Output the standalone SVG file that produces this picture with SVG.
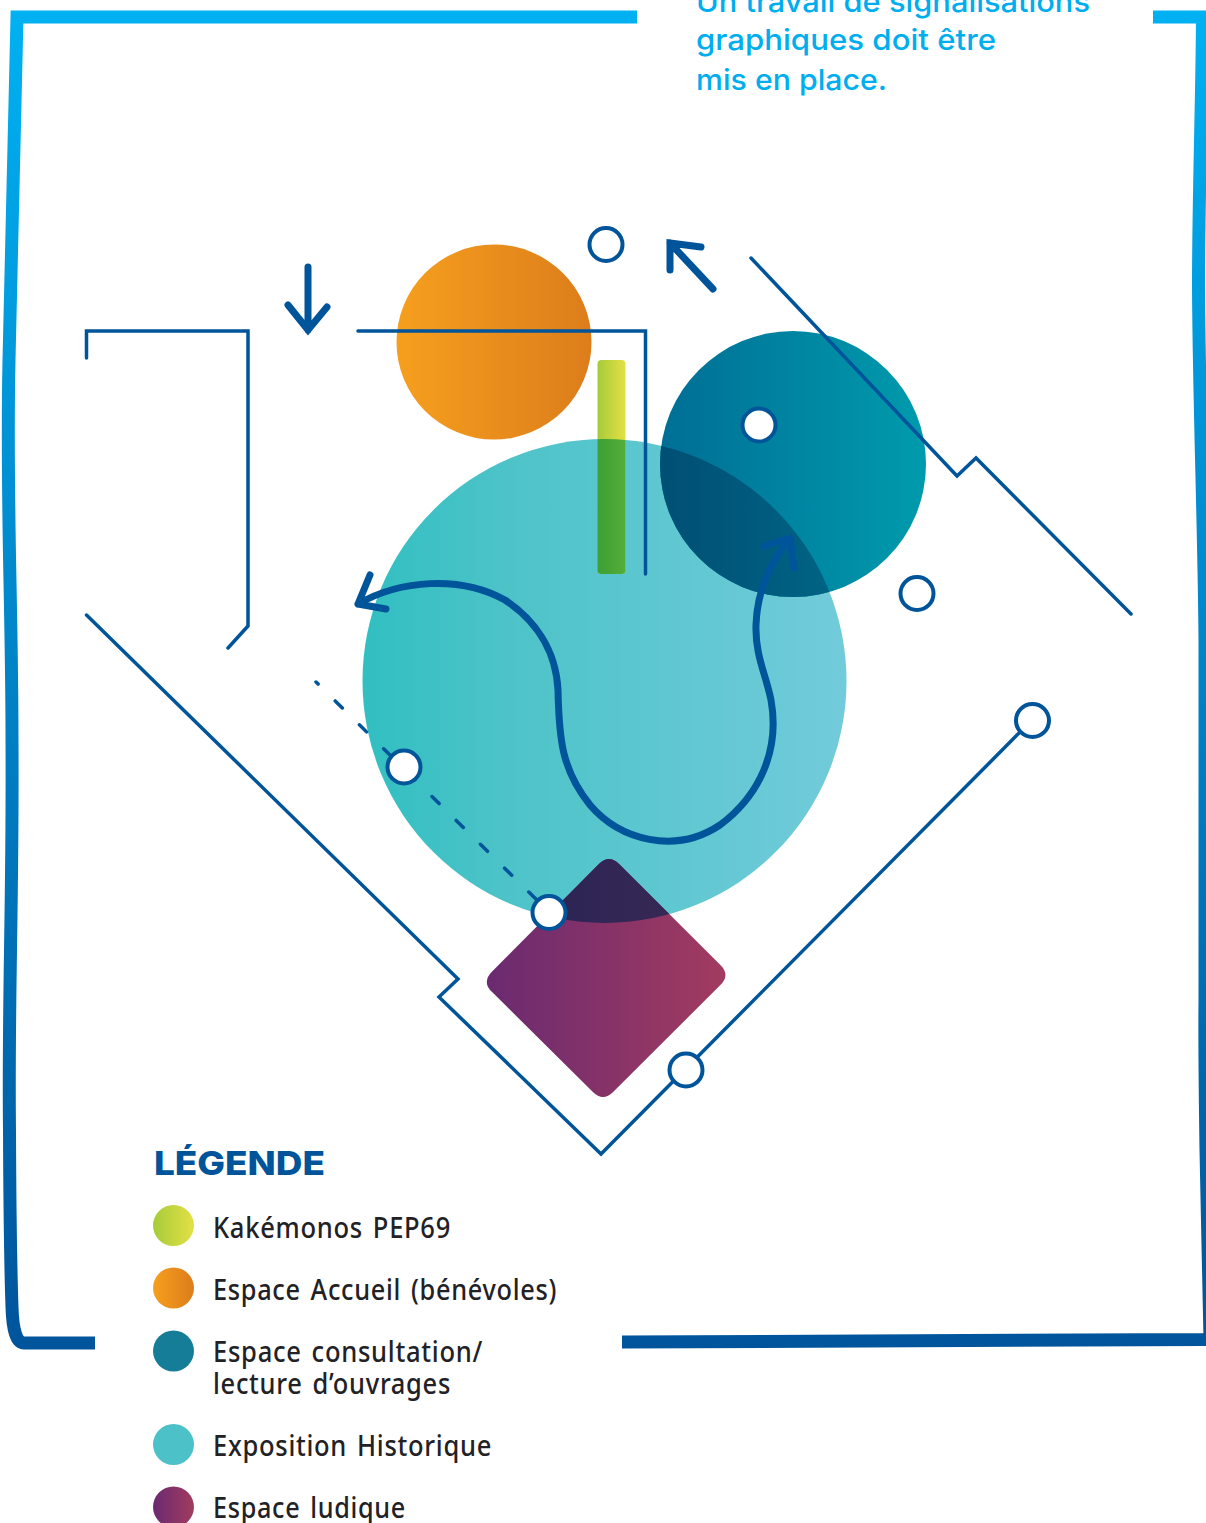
<svg xmlns="http://www.w3.org/2000/svg" width="1206" height="1523" viewBox="0 0 1206 1523">
<defs>
<linearGradient id="frame" gradientUnits="userSpaceOnUse" x1="0" y1="10" x2="0" y2="1350"><stop offset="0" stop-color="#00b1f2"/><stop offset="1" stop-color="#00549b"/></linearGradient>
<linearGradient id="big"><stop offset="0" stop-color="#31bfc1"/><stop offset="0.3" stop-color="#4dc3c8"/><stop offset="0.6" stop-color="#5dc7d0"/><stop offset="1" stop-color="#72cbda"/></linearGradient>
<linearGradient id="orange"><stop offset="0" stop-color="#f69f1e"/><stop offset="1" stop-color="#dc7d1b"/></linearGradient>
<linearGradient id="teal"><stop offset="0" stop-color="#006e95"/><stop offset="1" stop-color="#009bad"/></linearGradient>
<linearGradient id="tealDark"><stop offset="0" stop-color="#004f74"/><stop offset="1" stop-color="#006f8e"/></linearGradient>
<linearGradient id="plum"><stop offset="0" stop-color="#6a2a70"/><stop offset="1" stop-color="#a23b60"/></linearGradient>
<linearGradient id="plumDark"><stop offset="0" stop-color="#272254"/><stop offset="1" stop-color="#3b2a55"/></linearGradient>
<linearGradient id="lime"><stop offset="0" stop-color="#a5cc39"/><stop offset="1" stop-color="#e4e046"/></linearGradient>
<linearGradient id="barDark"><stop offset="0" stop-color="#3c9f35"/><stop offset="1" stop-color="#55ad3a"/></linearGradient>
<clipPath id="bigClip"><circle cx="604.500" cy="681" r="242"/></clipPath>
<style>
.wire{fill:none;stroke:#00549a;stroke-width:3.500;stroke-linecap:round;stroke-linejoin:miter}
.arrow{fill:none;stroke:#00549a;stroke-width:7;stroke-linecap:round;stroke-linejoin:miter}
.dot{fill:#fff;stroke:#00549a;stroke-width:4}
.note{font:500 29px Inter,"Open Sans",sans-serif;fill:#00aeef}
.leg{font:500 29px "Noto Sans",sans-serif;fill:#222226;letter-spacing:0.8px;word-spacing:3px}
</style>
</defs>
<g id="frame-border" fill="none" stroke="url(#frame)" stroke-width="13">
<path d="M637 17H17Q13 200 9 360C6 500 12 600 12 740C13 900 8 1000 9.500 1130Q10 1250 12 1307Q13 1343 24 1343H95"/>
<path d="M622 1342L1210 1339.500L1206 1150Q1204.500 1050 1205 1000C1205 850 1206 700 1205 640C1204 520 1199 400 1198.500 285C1198.500 200 1202 100 1202.500 17H1153"/>
</g>
<g id="note"><text class="note" x="696" y="11.500" textLength="394" lengthAdjust="spacingAndGlyphs">Un travail de signalisations</text><text class="note" x="696" y="49.500" textLength="300" lengthAdjust="spacingAndGlyphs">graphiques doit être</text><text class="note" x="696" y="89.500" textLength="191" lengthAdjust="spacingAndGlyphs">mis en place.</text></g>
<g id="espace-accueil"><circle cx="494" cy="342" r="97.500" fill="url(#orange)"/></g>
<g id="exposition"><circle cx="604.500" cy="681" r="242" fill="url(#big)"/></g>
<g id="kakemono"><rect x="597.500" y="360" width="28" height="214" rx="4" fill="url(#lime)"/>
<rect x="597.500" y="360" width="28" height="214" rx="4" fill="url(#barDark)" clip-path="url(#bigClip)"/></g>
<g id="espace-consultation"><circle cx="793" cy="464" r="133" fill="url(#teal)"/>
<circle cx="793" cy="464" r="133" fill="url(#tealDark)" clip-path="url(#bigClip)"/></g>
<g id="espace-ludique"><path d="M492.100 971.400L598.900 864.100Q609 854 619.100 864.100L720.400 964.900Q730.500 975 720.400 985.100L613.100 1091.900Q603 1102 592.900 1091.900L492.100 992.100Q481.500 982 492.100 971.400Z" fill="url(#plum)"/>
<path d="M492.100 971.400L598.900 864.100Q609 854 619.100 864.100L720.400 964.900Q730.500 975 720.400 985.100L613.100 1091.900Q603 1102 592.900 1091.900L492.100 992.100Q481.500 982 492.100 971.400Z" fill="url(#plumDark)" clip-path="url(#bigClip)"/></g>
<g id="connectors">
<path class="wire" d="M86.500 358V331H248V626L228 648"/>
<path class="wire" d="M358 331H645.500V574"/>
<path class="wire" d="M751 258L957 476L976 458L1131 614"/>
<path class="wire" d="M86.500 615L458 979L439 997L601 1154L1032 720"/>
<path class="wire" d="M316 682L549 912" stroke-width="4" stroke-dasharray="10 24" stroke-dashoffset="7"/>
<path class="arrow" d="M308 267V330M288 305L308 330L327 307"/>
<path class="arrow" d="M713 289L670 243M670 270L670 243L701 247"/>
<path class="arrow" d="M358 604C400 580 460 575 505 600C535 620 556 650 558 690C559 740 562 770 590 805C620 840 675 855 720 825C760 795 780 750 771 700C766 675 755 655 756 625C757 595 768 565 790 538M358 604L370 575M358 604L386 609M790 538L764 546M790 538L794 568"/>
</g>
<g id="markers">
<circle class="dot" cx="606" cy="244.500" r="16.500"/>
<circle class="dot" cx="759" cy="425" r="16.500"/>
<circle class="dot" cx="917" cy="593.500" r="16.500"/>
<circle class="dot" cx="404" cy="767" r="16.500"/>
<circle class="dot" cx="549" cy="912.500" r="16.500"/>
<circle class="dot" cx="686" cy="1070" r="16.500"/>
<circle class="dot" cx="1032.500" cy="720.500" r="16.500"/>
</g>
<g id="legend">
<text x="154" y="1175" textLength="171" lengthAdjust="spacingAndGlyphs" style="font:800 33px Inter,sans-serif;fill:#00549a">LÉGENDE</text>
<g id="leg-kakemonos"><circle cx="173.500" cy="1225.500" r="20.500" fill="url(#lime)"/><text class="leg" x="213" y="1238" textLength="238" lengthAdjust="spacingAndGlyphs">Kakémonos PEP69</text></g>
<g id="leg-accueil"><circle cx="173.500" cy="1288" r="20.500" fill="url(#orange)"/><text class="leg" x="213" y="1300" textLength="344" lengthAdjust="spacingAndGlyphs">Espace Accueil (bénévoles)</text></g>
<g id="leg-consultation"><circle cx="173.500" cy="1351" r="20.500" fill="#157d97"/><text class="leg" x="213" y="1362" textLength="270" lengthAdjust="spacingAndGlyphs">Espace consultation/</text><text class="leg" x="213" y="1394" textLength="238" lengthAdjust="spacingAndGlyphs">lecture d’ouvrages</text></g>
<g id="leg-exposition"><circle cx="173.500" cy="1444.500" r="20.500" fill="#4cc2c8"/><text class="leg" x="213" y="1456" textLength="279" lengthAdjust="spacingAndGlyphs">Exposition Historique</text></g>
<g id="leg-ludique"><circle cx="173.500" cy="1507" r="20.500" fill="url(#plum)"/><text class="leg" x="213" y="1518" textLength="193" lengthAdjust="spacingAndGlyphs">Espace ludique</text></g>
</g>
</svg>
